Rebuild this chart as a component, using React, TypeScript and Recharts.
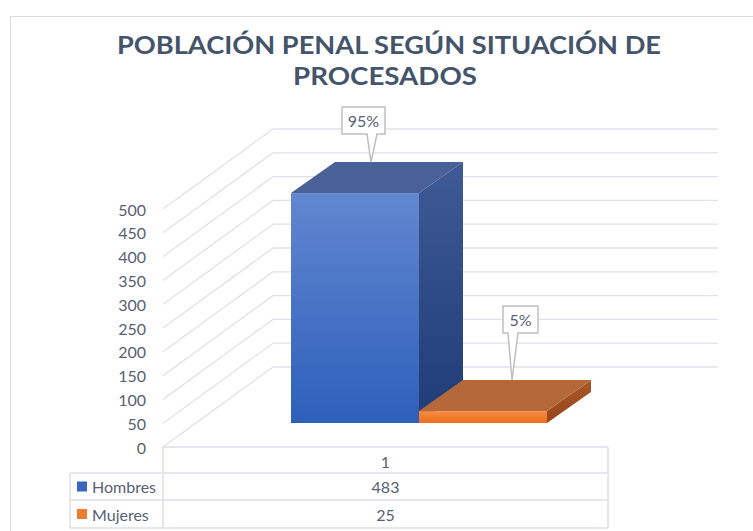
import React from 'react';
import { BarChart, Bar, XAxis, YAxis, CartesianGrid, Customized } from 'recharts';

// ---- data ----
const categories = ['1'];
const seriesNames = ['Hombres', 'Mujeres'];
const hombres = [483];
const mujeres = [25];
const yTicks = [0, 50, 100, 150, 200, 250, 300, 350, 400, 450, 500];
const titleLines = ['POBLACIÓN PENAL SEGÚN SITUACIÓN DE', 'PROCESADOS'];

const data = categories.map((c, i) => ({ name: c, Hombres: hombres[i], Mujeres: mujeres[i] }));
const totals = categories.map((_, i) => hombres[i] + mujeres[i]);

// ---- layout / style ----
const W = 753;
const H = 531;
const PLOT_LEFT = 163;
const PLOT_RIGHT = 608;
const PLOT_TOP = 209;
const PLOT_BOTTOM = 447;
const YAXIS_W = 60;
const WALL_DX = 110;
const WALL_DY = -80;
const BAR_OFF_DX = 33;
const BAR_OFF_DY = -24;
const BAR_D_DX = 44;
const BAR_D_DY = -31;
const FONT = 'Lato, "Open Sans", "DejaVu Sans", sans-serif';
const TEXT = '#586174';
const GRID = '#dfe2e8';
const TABLE_LINE = '#dcdfe6';
const FS = 16;

const palettes = [
  {
    id: 'hom', key: 'Hombres', legend: '#3b67c2',
    frontTop: '#6187d0', frontBottom: '#2e5fbb',
    top: '#4a6197', sideTop: '#3f5a95', sideBottom: '#1f3c77',
    tipDx: 16, boxDx: -7.5, len: 28,
  },
  {
    id: 'muj', key: 'Mujeres', legend: '#ed7d31',
    frontTop: '#f68c42', frontBottom: '#ef6f1e',
    top: '#b5693b', sideTop: '#a85828', sideBottom: '#96461a',
    tipDx: 29, boxDx: 8.5, len: 47,
  },
];

const makeShape = (pal: any) => (props: any) => {
  const { x, y, width, height, payload, index } = props;
  if (x == null || y == null) return <g />;
  const fx = x + BAR_OFF_DX;
  const fy = y + BAR_OFF_DY;
  const w = width;
  const h = height;
  const v = payload ? payload[pal.key] : 0;
  const pct = Math.round((v / totals[index ?? 0]) * 100) + '%';
  const tipX = fx + w / 2 + pal.tipDx;
  const tipY = fy + BAR_D_DY;
  const boxW = pct.length > 2 ? 43 : 35;
  const boxH = 27;
  const bcx = tipX + pal.boxDx;
  const bBottom = tipY - pal.len;
  const bTop = bBottom - boxH;
  const bl = bcx - boxW / 2;
  const br = bcx + boxW / 2;
  const calloutPath = `M${bl},${bTop} H${br} V${bBottom} H${tipX + 6} L${tipX},${tipY} L${tipX - 4},${bBottom} H${bl} Z`;
  return (
    <g>
      <defs>
        <linearGradient id={pal.id + 'F'} x1="0" y1="0" x2="0" y2="1">
          <stop offset="0%" stopColor={pal.frontTop} />
          <stop offset="100%" stopColor={pal.frontBottom} />
        </linearGradient>
        <linearGradient id={pal.id + 'S'} x1="0" y1="0" x2="0" y2="1">
          <stop offset="0%" stopColor={pal.sideTop} />
          <stop offset="100%" stopColor={pal.sideBottom} />
        </linearGradient>
      </defs>
      <polygon
        points={`${fx + w},${fy} ${fx + w + BAR_D_DX},${fy + BAR_D_DY} ${fx + w + BAR_D_DX},${fy + h + BAR_D_DY} ${fx + w},${fy + h}`}
        fill={`url(#${pal.id}S)`}
      />
      <polygon
        points={`${fx},${fy} ${fx + BAR_D_DX},${fy + BAR_D_DY} ${fx + w + BAR_D_DX},${fy + BAR_D_DY} ${fx + w},${fy}`}
        fill={pal.top}
      />
      <rect x={fx} y={fy} width={w} height={h} fill={`url(#${pal.id}F)`} />
      <path d={calloutPath} fill="#ffffff" stroke="#bfbfbf" strokeWidth={1.5} />
      <text
        x={bcx}
        y={(bTop + bBottom) / 2}
        textAnchor="middle"
        dominantBaseline="central"
        fontFamily={FONT}
        fontSize={FS}
        fill={TEXT}
      >
        {pct}
      </text>
    </g>
  );
};

const gridLine = (props: any) => {
  const { x1, y1, x2, index } = props;
  return (
    <g key={`gl-${index}`}>
      <line x1={x1} y1={y1} x2={x1 + WALL_DX} y2={y1 + WALL_DY} stroke={GRID} strokeWidth={1.3} />
      <line x1={x1 + WALL_DX} y1={y1 + WALL_DY} x2={x2 + WALL_DX} y2={y1 + WALL_DY} stroke={GRID} strokeWidth={1.3} />
    </g>
  );
};

const YTick = (props: any) => {
  const { x, y, payload } = props;
  return (
    <text x={x} y={y} textAnchor="end" dominantBaseline="central" fontFamily={FONT} fontSize={FS} fill={TEXT}>
      {payload.value}
    </text>
  );
};

const Decor = () => {
  const legendLeft = 70;
  const rowTop = [447, 473, 500, 528];
  const midX = (PLOT_LEFT + PLOT_RIGHT) / 2;
  const seriesVals = [hombres, mujeres];
  return (
    <g>
      <rect x={10.5} y={16.5} width={900} height={700} fill="none" stroke="#d9dde6" strokeWidth={1} />
      {titleLines.map((t, i) => (
        <text
          key={t}
          x={i === 0 ? 389 : 385}
          y={i === 0 ? 54 : 85}
          textAnchor="middle"
          fontFamily={FONT}
          fontWeight={700}
          fontSize={25}
          fill="#44546a"
          textLength={i === 0 ? 544 : 184}
          lengthAdjust="spacingAndGlyphs"
        >
          {t}
        </text>
      ))}
      {/* data table */}
      <line x1={PLOT_LEFT} y1={rowTop[0]} x2={PLOT_RIGHT} y2={rowTop[0]} stroke={TABLE_LINE} strokeWidth={1.5} />
      {[1, 2, 3].map((r) => (
        <line key={r} x1={legendLeft} y1={rowTop[r]} x2={PLOT_RIGHT} y2={rowTop[r]} stroke={TABLE_LINE} strokeWidth={1.5} />
      ))}
      <line x1={legendLeft} y1={rowTop[1]} x2={legendLeft} y2={rowTop[3]} stroke={TABLE_LINE} strokeWidth={1.5} />
      <line x1={PLOT_LEFT} y1={rowTop[0]} x2={PLOT_LEFT} y2={rowTop[3]} stroke={TABLE_LINE} strokeWidth={1.5} />
      <line x1={PLOT_RIGHT} y1={rowTop[0]} x2={PLOT_RIGHT} y2={rowTop[3]} stroke={TABLE_LINE} strokeWidth={1.5} />
      {categories.map((c) => (
        <text key={c} x={midX} y={(rowTop[0] + rowTop[1]) / 2 + 1} textAnchor="middle" dominantBaseline="central" fontFamily={FONT} fontSize={FS} fill={TEXT}>
          {c}
        </text>
      ))}
      {seriesNames.map((s, i) => {
        const cy = (rowTop[i + 1] + rowTop[i + 2]) / 2;
        return (
          <g key={s}>
            <rect x={77} y={cy - 5} width={10} height={10} fill={palettes[i].legend} />
            <text x={92} y={cy} dominantBaseline="central" fontFamily={FONT} fontSize={FS} fill={TEXT}>
              {s}
            </text>
            <text x={midX} y={cy} textAnchor="middle" dominantBaseline="central" fontFamily={FONT} fontSize={FS} fill={TEXT}>
              {seriesVals[i][0]}
            </text>
          </g>
        );
      })}
    </g>
  );
};

export default function App() {
  return (
    <div style={{ position: 'absolute', left: 0, top: 0, width: W, height: H, background: '#ffffff', overflow: 'hidden' }}>
      <BarChart
        width={W}
        height={H}
        data={data}
        margin={{ top: PLOT_TOP, right: W - PLOT_RIGHT, bottom: H - PLOT_BOTTOM, left: PLOT_LEFT - YAXIS_W }}
        barSize={128}
        barGap={0}
      >
        <CartesianGrid vertical={false} horizontal={gridLine as any} />
        <XAxis dataKey="name" hide />
        <YAxis
          width={YAXIS_W}
          domain={[0, 500]}
          ticks={yTicks}
          interval={0}
          axisLine={false}
          tickLine={false}
          tickSize={0}
          tickMargin={17}
          tick={<YTick />}
        />
        <Customized component={Decor} />
        {palettes.map((p) => (
          <Bar key={p.key} dataKey={p.key} isAnimationActive={false} shape={makeShape(p)} />
        ))}
      </BarChart>
    </div>
  );
}
